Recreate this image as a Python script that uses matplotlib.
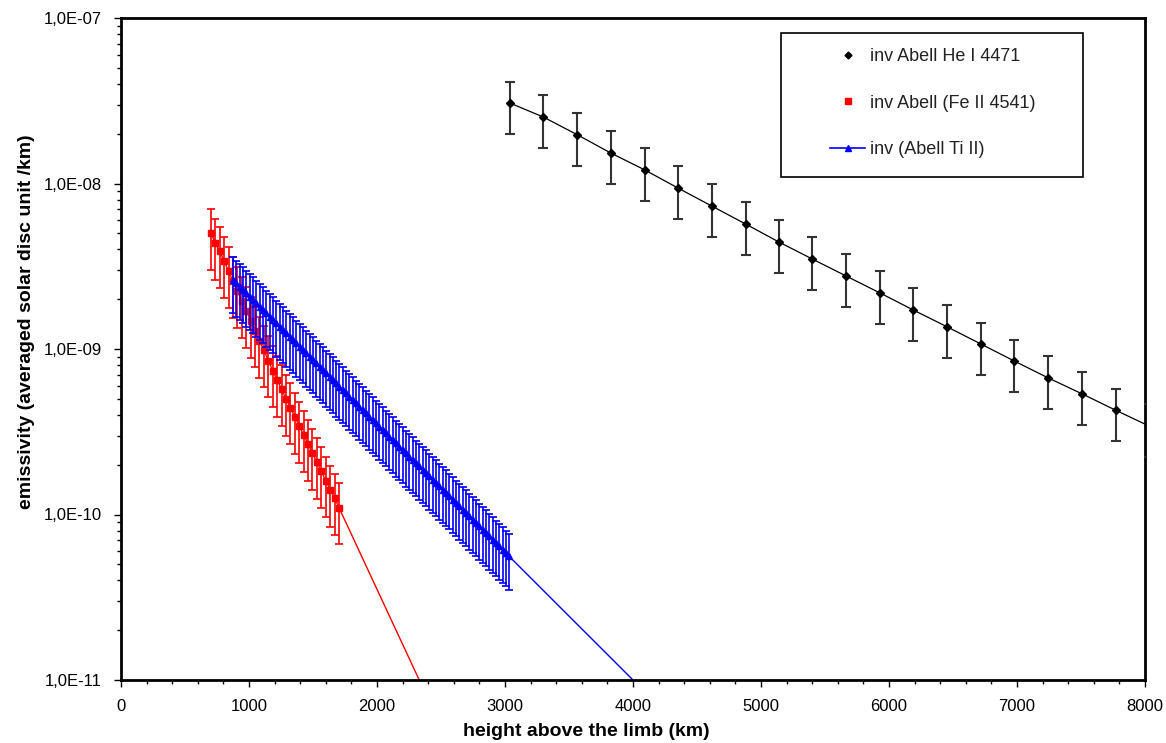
import matplotlib
matplotlib.use("Agg")
import matplotlib.pyplot as plt
from matplotlib.lines import Line2D
from matplotlib.patches import Rectangle
from matplotlib.ticker import FixedLocator, FuncFormatter, LogLocator, NullFormatter

plt.rcParams['font.family'] = ['Liberation Sans', 'DejaVu Sans']

# He I 4471 (black diamonds), last point sits just past the right edge
he_x = [3040, 3300, 3565, 3825, 4090, 4350, 4615, 4880, 5140, 5400,
        5665, 5930, 6190, 6455, 6720, 6980, 7245, 7510, 7770, 8030]
he_y = [3.06e-8, 2.52e-8, 1.97e-8, 1.53e-8, 1.21e-8, 9.4e-9, 7.31e-9, 5.69e-9, 4.43e-9, 3.50e-9,
        2.76e-9, 2.18e-9, 1.72e-9, 1.36e-9, 1.07e-9, 8.45e-10, 6.68e-10, 5.35e-10, 4.27e-10, 3.43e-10]
he_err = 0.35  # relative error

# Fe II 4541 (red squares)
fe_x = [703, 737, 772, 806, 841, 875, 910, 944, 979, 1013,
        1048, 1082, 1117, 1151, 1186, 1220, 1255, 1289, 1324, 1358,
        1393, 1427, 1462, 1496, 1531, 1565, 1600, 1634, 1669, 1703]
fe_y = [5.00e-9, 4.37e-9, 3.89e-9, 3.39e-9, 2.95e-9, 2.57e-9, 2.24e-9, 1.95e-9, 1.70e-9, 1.48e-9,
        1.29e-9, 1.12e-9, 9.8e-10, 8.5e-10, 7.4e-10, 6.5e-10, 5.7e-10, 5.0e-10, 4.42e-10, 3.89e-10,
        3.43e-10, 3.02e-10, 2.66e-10, 2.34e-10, 2.07e-10, 1.82e-10, 1.60e-10, 1.41e-10, 1.26e-10, 1.10e-10]
fe_err = 0.40
fe_tail_x = [1703, 2330]
fe_tail_y = [1.10e-10, 1.0e-11]

# Ti II (blue triangles), values in units of 1e-9
ti_x = [875, 901, 927, 953, 979, 1005, 1031, 1057, 1083, 1109,
        1135, 1161, 1187, 1213, 1239, 1265, 1291, 1317, 1343, 1369,
        1395, 1421, 1447, 1473, 1499, 1525, 1551, 1577, 1603, 1629,
        1655, 1681, 1707, 1733, 1759, 1785, 1811, 1837, 1863, 1889,
        1915, 1941, 1967, 1993, 2019, 2045, 2071, 2097, 2123, 2149,
        2175, 2201, 2227, 2253, 2279, 2305, 2331, 2357, 2383, 2409,
        2435, 2461, 2487, 2513, 2539, 2565, 2591, 2617, 2643, 2669,
        2695, 2721, 2747, 2773, 2799, 2825, 2851, 2877, 2903, 2929,
        2955, 2981, 3007, 3033]
ti_y_e9 = [2.61, 2.492, 2.379, 2.271, 2.168, 2.070, 1.976, 1.887, 1.801, 1.720,
           1.642, 1.567, 1.496, 1.429, 1.364, 1.302, 1.243, 1.187, 1.133, 1.082,
           1.033, 0.986, 0.941, 0.899, 0.858, 0.819, 0.782, 0.747, 0.713, 0.680,
           0.650, 0.620, 0.592, 0.565, 0.540, 0.515, 0.492, 0.470, 0.448, 0.428,
           0.409, 0.390, 0.373, 0.356, 0.340, 0.324, 0.310, 0.296, 0.282, 0.269,
           0.257, 0.246, 0.234, 0.224, 0.214, 0.204, 0.195, 0.186, 0.178, 0.170,
           0.162, 0.155, 0.148, 0.141, 0.135, 0.129, 0.123, 0.117, 0.112, 0.107,
           0.102, 0.0973, 0.0929, 0.0887, 0.0847, 0.0808, 0.0772, 0.0737, 0.0703, 0.0671,
           0.0641, 0.0612, 0.0584, 0.0558]
ti_y = [v * 1e-9 for v in ti_y_e9]
ti_err = 0.37
ti_tail_x = [3033, 4000]
ti_tail_y = [5.58e-11, 1.0e-11]

fig = plt.figure(figsize=(11.66, 7.43), dpi=100)
ax = fig.add_axes([121/1166, 1 - 680/743, 1024/1166, 662/743])

# thin extension lines
ax.plot(fe_tail_x, fe_tail_y, color='red', lw=1.0, zorder=2)
ax.plot(ti_tail_x, ti_tail_y, color='blue', lw=1.0, zorder=2)

ax.errorbar(fe_x, fe_y, yerr=[v * fe_err for v in fe_y], color='red', ecolor='red',
            elinewidth=1.2, capsize=3, capthick=1.2, marker='s', ms=4.5, lw=1.0, zorder=3)
ax.errorbar(ti_x, ti_y, yerr=[v * ti_err for v in ti_y], color='blue', ecolor='blue',
            elinewidth=1.2, capsize=3, capthick=1.2, marker='^', ms=4, lw=1.0, zorder=4)
ax.errorbar(he_x, he_y, yerr=[v * he_err for v in he_y], color='black', ecolor='#333333',
            elinewidth=1.5, capsize=3.3, capthick=1.5, marker='D', ms=3.8, lw=0.9, zorder=5)

ax.set_yscale('log')
ax.set_xlim(0, 8000)
ax.set_ylim(1e-11, 1e-7)

ax.xaxis.set_major_locator(FixedLocator(list(range(0, 8001, 1000))))
ax.xaxis.set_minor_locator(FixedLocator(list(range(0, 8001, 200))))
ax.yaxis.set_major_locator(LogLocator(base=10, numticks=10))
ax.yaxis.set_minor_locator(LogLocator(base=10, subs=[2, 3, 4, 5, 6, 7, 8, 9], numticks=20))
ax.yaxis.set_minor_formatter(NullFormatter())
ax.yaxis.set_major_formatter(FuncFormatter(lambda v, p: ('%.1E' % v).replace('.', ',')))

ax.tick_params(axis='both', which='major', direction='out', length=5, width=1, labelsize=12, colors='black')
ax.tick_params(axis='both', which='minor', direction='out', length=3, width=1)
ax.tick_params(axis='x', pad=9)
ax.tick_params(axis='y', pad=9)

for s in ax.spines.values():
    s.set_linewidth(2)
    s.set_color('black')

# axis titles sit where the original put them (not centred on the plot box)
ax.set_xlabel('height above the limb (km)', fontsize=14, fontweight='bold')
ax.set_ylabel('emissivity (averaged solar disc unit /km)', fontsize=14, fontweight='bold')
ax.xaxis.set_label_coords((586 - 121) / 1024, -(731 - 680) / 662)
ax.yaxis.set_label_coords(-(121 - 27) / 1024, (680 - 322) / 662)
ax.xaxis.label.set_va('center')
ax.yaxis.label.set_va('center')

# legend box drawn separately so the entries can sit inside it like the original
fig.patches.append(Rectangle((781/1166, 1 - 177/743), 302/1166, 144/743, transform=fig.transFigure,
                             fill=False, edgecolor='black', linewidth=1.2))
handles = [
    Line2D([], [], color='black', marker='D', ms=3.5, ls='none'),
    Line2D([], [], color='red', marker='s', ms=4, ls='none'),
    Line2D([], [], color='blue', marker='^', ms=4, lw=1.2),
]
labels = ['inv Abell He I 4471', 'inv Abell (Fe II 4541)', 'inv (Abell Ti II)']
leg = fig.legend(handles, labels, loc='upper left', bbox_to_anchor=(830/1166, 1 - 48/743),
                 fontsize=13, frameon=False, labelspacing=1.64, borderpad=0,
                 handlelength=1.95, handletextpad=0.28, borderaxespad=0)
for t in leg.get_texts():
    t.set_color('#222222')

fig.savefig('out.png', dpi=100)
